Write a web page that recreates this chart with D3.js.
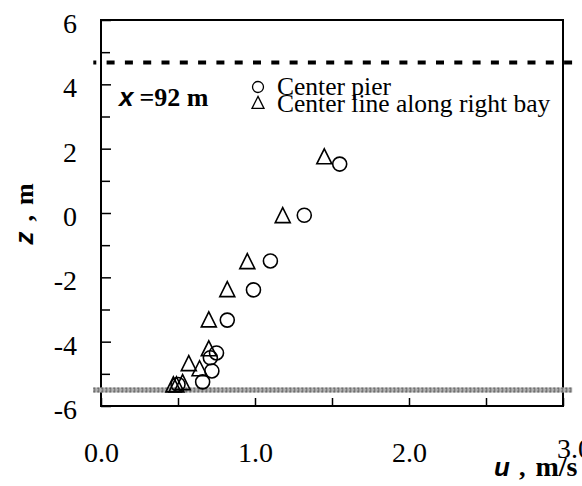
<!DOCTYPE html>
<html>
<head>
<meta charset="utf-8">
<script src="https://cdn.jsdelivr.net/npm/d3@7/dist/d3.min.js"></script>
<style>
  html, body { margin: 0; padding: 0; background: #fff; }
  svg { display: block; }
</style>
</head>
<body>
<svg id="chart" width="582" height="486"></svg>
<script>
// Velocity profiles at x = 92 m: depth z (m) against velocity u (m/s)
const pierU = [1.55, 1.32, 1.10, 0.99, 0.82, 0.75, 0.71, 0.72, 0.66, 0.50];
const pierZ = [1.52, -0.07, -1.49, -2.39, -3.33, -4.35, -4.50, -4.91, -5.25, -5.33];

const bayU = [1.45, 1.18, 0.95, 0.82, 0.70, 0.70, 0.57, 0.64, 0.47, 0.49, 0.53];
const bayZ = [1.74, -0.09, -1.52, -2.39, -3.33, -4.23, -4.69, -4.85, -5.35, -5.35, -5.28];

const seriesNames = ["Center pier", "Center line along right bay"];

const xTicks = [0, 1, 2, 3];
const xMinorTicks = [0.5, 1.5, 2.5];
const yTicks = [-6, -4, -2, 0, 2, 4, 6];
const yMinorTicks = [-5, -3, -1, 1, 3, 5];

// Water surface and channel bed elevations, drawn slightly past the frame
const surfaceZ = 4.68;
const bedZ = -5.5;
const refLineU = [-0.05, 3.06];

const svg = d3.select("#chart");

const x = d3.scaleLinear().domain([0, 3]).range([101, 563]);
const y = d3.scaleLinear().domain([-6, 6]).range([406, 20]);

const serif = "'Liberation Serif', 'Times New Roman', serif";
const sans = "'Liberation Sans', Arial, sans-serif";

// Y axis: labelled majors, unlabelled minors, ticks pointing inward
const yAxis = svg.append("g").attr("transform", `translate(${x(0)},0)`)
  .call(d3.axisLeft(y).tickValues(yTicks).tickSize(-10).tickPadding(24).tickFormat(d => String(d)));
yAxis.selectAll("text").attr("dy", "12.5px")
  .style("font-family", serif).style("font-size", "28px").attr("fill", "#000");
svg.append("g").attr("transform", `translate(${x(0)},0)`)
  .call(d3.axisLeft(y).tickValues(yMinorTicks).tickSize(-9).tickFormat(""));

// X axis
const xAxis = svg.append("g").attr("transform", `translate(0,${y(-6)})`)
  .call(d3.axisBottom(x).tickValues(xTicks).tickSize(-8).tickPadding(36).tickFormat(d => d.toFixed(1)));
xAxis.selectAll("text")
  .style("font-family", serif).style("font-size", "28px").attr("fill", "#000")
  .attr("dx", (d, i) => i === xTicks.length - 1 ? 11 : 0)
  .attr("dy", (d, i) => i === xTicks.length - 1 ? "0.58em" : "0.71em");
svg.append("g").attr("transform", `translate(0,${y(-6)})`)
  .call(d3.axisBottom(x).tickValues(xMinorTicks).tickSize(-8).tickFormat(""));

svg.selectAll(".domain").remove();
svg.selectAll(".tick line").attr("stroke", "#000").attr("stroke-width", 1.5);

// Plot frame
svg.append("rect")
  .attr("x", x(0)).attr("y", y(6))
  .attr("width", x(3) - x(0)).attr("height", y(-6) - y(6))
  .attr("fill", "none").attr("stroke", "#000").attr("stroke-width", 2);

// Bed line: grey checkered band
const bedLine = d3.line().x(d => x(d)).y(() => y(bedZ));
svg.append("path").attr("d", bedLine(refLineU))
  .attr("stroke", "#b4b4b4").attr("stroke-width", 5).attr("fill", "none");
svg.append("path").attr("d", bedLine(refLineU))
  .attr("stroke", "#6e6e6e").attr("stroke-width", 5).attr("fill", "none")
  .attr("stroke-dasharray", "2,2");
svg.append("path").attr("d", bedLine(refLineU))
  .attr("stroke", "#e0e0e0").attr("stroke-width", 1).attr("fill", "none")
  .attr("stroke-dasharray", "1,3");

// Water surface: heavy dashed line
const surfLine = d3.line().x(d => x(d)).y(() => y(surfaceZ));
svg.append("path").attr("d", surfLine(refLineU))
  .attr("stroke", "#000").attr("stroke-width", 4).attr("fill", "none")
  .attr("stroke-dasharray", "8,10.3").attr("stroke-dashoffset", 5);

// Markers
const triPath = (s) => `M0,${-s * 0.55}L${s / 2},${s * 0.45}L${-s / 2},${s * 0.45}Z`;

svg.append("g").selectAll("path").data(bayU.map((u, i) => [u, bayZ[i]]))
  .join("path")
  .attr("transform", d => `translate(${x(d[0])},${y(d[1])})`)
  .attr("d", triPath(15))
  .attr("fill", "none").attr("stroke", "#000").attr("stroke-width", 1.6);

svg.append("g").selectAll("circle").data(pierU.map((u, i) => [u, pierZ[i]]))
  .join("circle")
  .attr("cx", d => x(d[0])).attr("cy", d => y(d[1])).attr("r", 7)
  .attr("fill", "none").attr("stroke", "#000").attr("stroke-width", 1.6);

// Legend
const legend = svg.append("g").attr("transform", "translate(258,87)");
legend.append("circle").attr("cx", 0).attr("cy", 0).attr("r", 5.5)
  .attr("fill", "none").attr("stroke", "#000").attr("stroke-width", 1.3);
legend.append("path").attr("transform", "translate(0,16)").attr("d", triPath(12))
  .attr("fill", "none").attr("stroke", "#000").attr("stroke-width", 1.3);
legend.selectAll("text").data(seriesNames).join("text")
  .attr("x", 19).attr("y", (d, i) => 8 + i * 17)
  .style("font-family", serif).style("font-size", "25.5px").attr("fill", "#000")
  .text(d => d);

// Station annotation
const note = svg.append("text").attr("x", 119).attr("y", 106)
  .style("font-size", "26px").attr("fill", "#000");
note.append("tspan").style("font-family", sans).style("font-weight", "bold").style("font-style", "italic").text("x");
note.append("tspan").style("font-family", serif).style("font-weight", "bold").attr("dx", 6).text("=92 m");

// Axis titles
const xt = svg.append("text").attr("x", 494).attr("y", 476).attr("fill", "#000").style("font-size", "26px");
xt.append("tspan").style("font-family", sans).style("font-weight", "bold").style("font-style", "italic").text("u");
xt.append("tspan").style("font-family", serif).style("font-weight", "bold").attr("dx", 9).text(",");
xt.append("tspan").style("font-family", serif).style("font-weight", "bold").style("font-size", "28px").attr("dx", 10).text("m/s");

const yt = svg.append("text").attr("transform", "translate(33,214) rotate(-90)")
  .attr("text-anchor", "middle").attr("fill", "#000").style("font-size", "26px");
yt.append("tspan").style("font-family", sans).style("font-weight", "bold").style("font-style", "italic").text("z");
yt.append("tspan").style("font-family", serif).style("font-weight", "bold").attr("dx", 10).text(",");
yt.append("tspan").style("font-family", serif).style("font-weight", "bold").attr("dx", 10).text("m");
</script>
</body>
</html>
